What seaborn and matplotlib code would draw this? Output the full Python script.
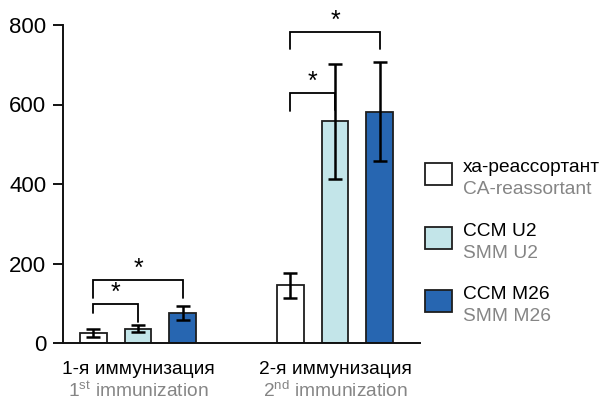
import matplotlib
matplotlib.use("Agg")
import matplotlib.pyplot as plt
import matplotlib.patches as mpatches
import pandas as pd
import seaborn as sns

# values
groups_ru = ["1-я иммунизация", "2-я иммунизация"]
groups_en = [r"1$^{\mathrm{st}}$ immunization", r"2$^{\mathrm{nd}}$ immunization"]
strains_ru = ["ха-реассортант", "CCM U2", "CCM M26"]
strains_en = ["CA-reassortant", "SMM U2", "SMM M26"]
ca_mean = [24, 145]
u2_mean = [36, 558]
m26_mean = [76, 582]
ca_err = [10, 32]
u2_err = [9, 145]
m26_err = [18, 124]
# significance brackets: group, left strain, right strain, left foot, top, right foot
bracket_group = [0, 0, 1, 1]
bracket_left = [0, 0, 0, 0]
bracket_right = [1, 2, 1, 2]
bracket_foot_l = [75, 112, 584, 740]
bracket_top = [97, 158, 630, 783]
bracket_foot_r = [52, 112, 587, 740]

colors = ["#ffffff", "#c3e5e9", "#2766b1"]
gray = "#858585"

sns.set_theme(style="ticks", rc={"text.color": "black", "ytick.labelcolor": "black",
                                 "ytick.color": "black", "axes.edgecolor": "black"})
plt.rcParams["font.family"] = ["Liberation Sans", "DejaVu Sans"]
plt.rcParams["mathtext.fontset"] = "custom"
plt.rcParams["mathtext.rm"] = "Liberation Sans"
plt.rcParams["mathtext.it"] = "Liberation Sans:italic"

df = pd.DataFrame({
    "group": groups_ru * 3,
    "strain": [s for s in strains_ru for _ in groups_ru],
    "value": ca_mean + u2_mean + m26_mean,
    "err": ca_err + u2_err + m26_err,
})

fig = plt.figure(figsize=(6.04, 4.01), dpi=100)
ax = fig.add_axes([63 / 604, 58 / 401, 357 / 604, 318 / 401])

sns.barplot(
    data=df, x="group", y="value", hue="strain",
    order=groups_ru, hue_order=strains_ru,
    palette=colors, saturation=1, width=0.68, gap=0.4,
    edgecolor="#1e1e1e", linewidth=1.3,
    errorbar=None, legend=False, ax=ax,
)

# error bars and bar centres from the seaborn containers
centers = []
bar_containers = list(ax.containers)
for i, cont in enumerate(bar_containers):
    xs = [p.get_x() + p.get_width() / 2 for p in cont.patches]
    centers.append(xs)
    sub = df[df["strain"] == strains_ru[i]]
    ax.errorbar(xs, sub["value"], yerr=sub["err"], fmt="none",
                ecolor="black", elinewidth=1.8, capsize=5, capthick=1.8, zorder=5)

for g, l, r, fl, t, fr in zip(bracket_group, bracket_left, bracket_right,
                              bracket_foot_l, bracket_top, bracket_foot_r):
    xl = centers[l][g]
    xr = centers[r][g]
    ax.plot([xl, xl, xr, xr], [fl, t, t, fr], color="black", lw=1.3,
            solid_joinstyle="miter", clip_on=False)
    ax.annotate("*", ((xl + xr) / 2, t), xytext=(0, 8), textcoords="offset points",
                ha="center", va="center", fontsize=18, annotation_clip=False)

ax.set_ylim(0, 800)
ax.set_xlim(-0.381, 1.431)
ax.set_yticks([0, 200, 400, 600, 800])
ax.tick_params(axis="y", labelsize=16, length=7, width=1.3, pad=5,
               color="black", labelcolor="black")
ax.set_xticks([])
ax.set_xlabel("")
ax.set_ylabel("")
for s in ["left", "bottom"]:
    ax.spines[s].set_linewidth(1.4)
    ax.spines[s].set_color("#111111")
sns.despine(ax=ax)

# two-line category labels (black Russian, gray English)
for i in range(len(groups_ru)):
    ax.annotate(groups_ru[i], (i, 0), xytext=(0, -31), textcoords="offset pixels",
                xycoords=("data", "axes fraction"), ha="center", va="baseline",
                fontsize=13.8, color="black", annotation_clip=False)
    ax.annotate(groups_en[i], (i, 0), xytext=(0, -54), textcoords="offset pixels",
                xycoords=("data", "axes fraction"), ha="center", va="baseline",
                fontsize=13.8, color=gray, annotation_clip=False)

# legend built by hand so each entry has a black and a gray line
box_centers = [174, 238, 301]
for i in range(len(strains_ru)):
    yc = box_centers[i]
    fig.add_artist(mpatches.Rectangle(
        (425 / 604, 1 - (yc + 11) / 401), 27 / 604, 22 / 401,
        transform=fig.transFigure, facecolor=colors[i],
        edgecolor="#1e1e1e", linewidth=1.3))
    fig.text(463 / 604, 1 - (yc - 2) / 401, strains_ru[i], fontsize=13.8,
             color="black", ha="left", va="baseline")
    fig.text(463 / 604, 1 - (yc + 20) / 401, strains_en[i], fontsize=13.8,
             color=gray, ha="left", va="baseline")

fig.savefig("out.png", dpi=100)
